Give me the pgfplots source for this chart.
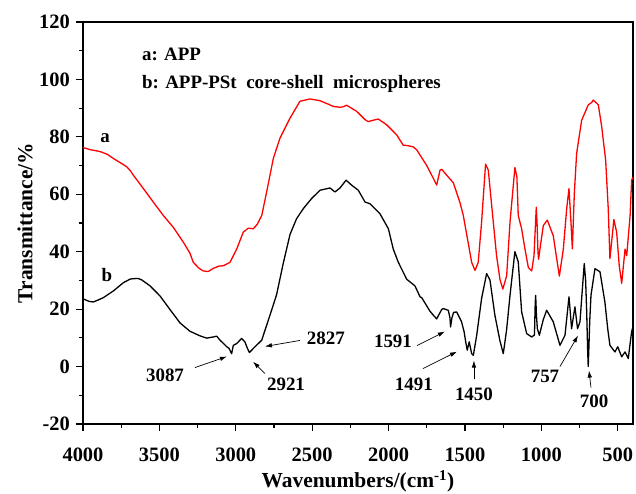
\documentclass[border=0pt]{standalone}
\usepackage{fontspec}
\setmainfont{Liberation Serif}
\usepackage{pgfplots}
\pgfplotsset{compat=1.18}
\usetikzlibrary{arrows.meta}
\pgfplotstableread{
w v
4000 76.3
3950 75.5
3889 74.9
3840 73.9
3802 72.5
3750 70.8
3714 69.6
3690 68.2
3671 66.7
3605 62.0
3540 57.3
3474 52.6
3409 48.5
3343 43.3
3300 39.5
3278 36.3
3240 34.2
3212 33.3
3180 33.1
3147 34.2
3110 35.0
3081 35.1
3038 36.3
2994 40.9
2951 46.8
2918 48.2
2885 48.0
2860 49.5
2830 52.6
2798 60.8
2754 72.5
2711 79.5
2645 86.5
2580 92.4
2514 93.2
2449 92.6
2400 91.5
2362 90.6
2318 90.3
2296 90.5
2274 91.0
2209 88.9
2154 86.0
2133 85.3
2100 85.8
2067 86.2
2012 84.2
1947 80.7
1904 77.1
1881 77.0
1838 76.5
1816 75.5
1751 70.1
1718 66.7
1685 63.2
1663 68.4
1652 68.7
1620 66.7
1576 64.0
1532 57.0
1511 52.7
1478 42.9
1456 36.3
1434 33.5
1413 36.3
1391 50.3
1365 70.5
1347 68.4
1325 56.1
1293 38.6
1271 30.4
1252 27.0
1227 31.6
1205 50.3
1173 69.3
1160 66.1
1151 52.6
1129 48.0
1107 40.9
1085 34.5
1063 33.3
1048 38.6
1038 50.0
1033 55.5
1028 50.0
1022 40.0
1018 37.4
1009 40.9
987 49.1
961 51.0
922 45.6
882 31.5
856 40.9
834 55.0
819 62.0
806 50.3
797 41.0
784 60.3
769 74.2
736 85.8
693 91.1
670 92.0
660 92.8
627 91.2
605 83.6
579 71.9
562 55.0
551 37.6
525 51.2
507 46.8
490 35.1
474 29.0
452 40.9
441 38.6
419 52.6
409 64.9
400 66.0
}\redA
\pgfplotstableread{
w v
4000 23.6
3960 22.7
3932 22.5
3900 23.2
3867 24.0
3802 26.3
3736 29.2
3690 30.5
3671 30.6
3640 30.7
3616 30.2
3561 28.1
3496 24.6
3431 19.9
3365 15.2
3300 12.3
3234 10.7
3190 9.9
3160 10.2
3147 10.3
3125 10.6
3103 9.2
3080 8.0
3059 6.9
3045 6.4
3038 5.7
3027 4.5
3016 7.4
2994 8.0
2962 9.8
2940 8.6
2925 6.5
2911 4.9
2885 6.3
2853 8.0
2830 9.2
2809 12.6
2776 17.9
2733 25.0
2689 36.0
2645 46.0
2602 51.5
2558 55.0
2504 58.5
2449 61.4
2383 62.2
2351 60.8
2318 62.2
2278 64.9
2242 63.2
2198 61.4
2154 57.3
2121 56.7
2056 53.2
2001 48.0
1969 40.9
1936 36.3
1881 30.4
1827 28.1
1794 24.3
1783 24.0
1729 19.3
1707 17.9
1685 16.6
1652 19.9
1642 20.2
1609 19.6
1598 17.0
1594 13.8
1585 17.0
1574 18.9
1554 19.0
1522 15.6
1505 12.0
1495 8.6
1485 5.7
1472 8.6
1456 4.5
1445 3.9
1423 10.9
1391 23.7
1358 32.4
1336 30.1
1304 17.9
1271 9.0
1249 4.5
1227 12.9
1205 24.8
1173 40.0
1151 36.5
1129 19.1
1096 11.5
1063 10.3
1045 11.0
1040 22.0
1037 24.8
1032 18.0
1026 13.2
1013 10.9
987 16.4
965 19.6
922 15.6
878 7.4
845 10.9
819 24.3
812 20.0
802 13.2
780 20.8
763 13.2
747 15.6
730 28.0
719 35.9
710 30.0
703 19.0
697 6.0
693 0.0
689 6.0
683 16.0
675 24.8
649 34.1
616 33.0
584 22.5
565 13.0
551 7.4
518 5.1
500 6.9
474 3.4
452 5.1
431 2.8
409 12.1
400 14.0
}\blackB
\begin{document}
\begin{tikzpicture}
\begin{axis}[
  name=ax,
  scale only axis,
  width=550bp, height=402bp,
  x dir=reverse,
  xmin=400, xmax=4000,
  ymin=-20, ymax=120,
  xtick={500,1000,...,4000},
  ytick={-20,0,...,120},
  minor tick num=1,
  xtick pos=bottom, ytick pos=left,
  tick align=outside,
  major tick length=7bp, minor tick length=4bp,
  every tick/.style={black, line width=1.2bp},
  axis line style={line width=1.8bp},
  /pgf/number format/assume math mode=true,
  /pgf/number format/1000 sep={},
  tick label style={font=\bfseries\fontsize{20.5}{22}\selectfont},
  xticklabel style={inner sep=0pt, anchor=north, yshift=-17bp},
  yticklabel style={inner sep=0pt, anchor=east, xshift=-6bp},
  every axis x label/.style={at={(axis description cs:0.5,-0.142)}, anchor=center},
  every axis y label/.style={at={(axis description cs:-0.1055,0.5)}, rotate=90, anchor=center},
  label style={font=\bfseries\fontsize{21.5}{24}\selectfont},
  xlabel={Wavenumbers/(cm\textsuperscript{-1})},
  ylabel={Transmittance/\%},
]
\addplot[red, line width=1.3bp, line join=round] table[x=w, y=v] {\redA};
\addplot[black, line width=1.3bp, line join=round] table[x=w, y=v] {\blackB};

\tikzset{lbl/.style={font=\bfseries\fontsize{19}{21}\selectfont, inner sep=0pt}}
\node[lbl, anchor=west] at (axis cs:3614,108.6) {a: APP};
\node[lbl, anchor=west] at (axis cs:3614,98.5) {b: APP-PSt\ \ core-shell\ \ microspheres};
\node[lbl] at (axis cs:3856,79.5) {a};
\node[lbl] at (axis cs:3843,32.0) {b};

\tikzset{arr/.style={-{Latex[length=7bp,width=4.5bp]}, line width=0.7bp, black}}
\node[lbl] at (axis cs:3463,-3.1) {3087};
\draw[arr] (axis cs:3267,-0.35) -- (axis cs:3058,3.5);
\node[lbl] at (axis cs:2671,-6.3) {2921};
\draw[arr] (axis cs:2809,-2.4) -- (axis cs:2887,1.7);
\node[lbl] at (axis cs:2410,9.8) {2827};
\draw[arr] (axis cs:2580,9.1) -- (axis cs:2809,7.0);
\node[lbl] at (axis cs:1971,8.7) {1591};
\draw[arr] (axis cs:1814,7.3) -- (axis cs:1631,12.2);
\node[lbl] at (axis cs:1834,-6.3) {1491};
\draw[arr] (axis cs:1775,-0.7) -- (axis cs:1552,5.2);
\node[lbl] at (axis cs:1441,-9.8) {1450};
\draw[arr] (axis cs:1441,-4.5) -- (axis cs:1441,2.1);
\node[lbl] at (axis cs:976,-3.5) {757};
\draw[arr] (axis cs:878,0) -- (axis cs:760,10.8);
\node[lbl] at (axis cs:655,-12.2) {700};
\draw[arr] (axis cs:675,-7.3) -- (axis cs:688,-1.4);
\end{axis}
\pgfresetboundingbox
\path[use as bounding box] ([shift={(-83bp,-70bp)}]ax.south west) rectangle ([shift={(3bp,22bp)}]ax.north east);
\end{tikzpicture}
\end{document}
